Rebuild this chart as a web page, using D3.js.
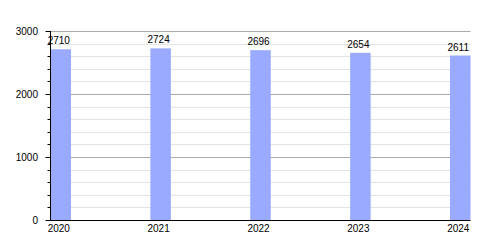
<!DOCTYPE html>
<html><head><meta charset="utf-8">
<script src="https://cdn.jsdelivr.net/npm/d3@7"></script>
<style>body{margin:0;background:#fff}svg{display:block}text{font-family:"Liberation Sans",Arial,sans-serif;font-size:10px;fill:#000}</style>
</head><body>
<svg id="c" width="500" height="250"></svg>
<script>
const categories = ["2020","2021","2022","2023","2024"];
const values = [2710, 2724, 2696, 2654, 2611];
const majorTicks = [0, 1000, 2000, 3000];

(function(){
const svg = d3.select("#c");
const pl = 50.5, pr = 470.5, pt = 31, pb = 220;
const barW = 20.5;
const x = d3.scalePoint().domain(categories).range([pl + barW/2, pr - barW/2]);
const y = d3.scaleLinear().domain([0, 3000]).range([pb, pt]);

const minor = d3.range(200, 3000, 200).filter(v => v % 1000 !== 0);
svg.append("g").selectAll("line").data(minor).join("line")
  .attr("x1", pl).attr("x2", pr)
  .attr("y1", d => Math.round(y(d)) + 0.5).attr("y2", d => Math.round(y(d)) + 0.5)
  .attr("stroke", "#e4e4e4").attr("stroke-width", 1);
svg.append("g").selectAll("line").data(majorTicks.filter(d => d > 0)).join("line")
  .attr("x1", pl).attr("x2", pr)
  .attr("y1", d => Math.round(y(d)) + 0.5).attr("y2", d => Math.round(y(d)) + 0.5)
  .attr("stroke", "#aaaaaa").attr("stroke-width", 1);

svg.append("g").selectAll("rect").data(values).join("rect")
  .attr("x", (d, i) => x(categories[i]) - barW/2)
  .attr("width", barW)
  .attr("y", d => y(d))
  .attr("height", d => pb - y(d))
  .attr("fill", "#99aaff");

svg.append("g").selectAll("text").data(values).join("text")
  .attr("x", (d, i) => x(categories[i]) - 2)
  .attr("y", d => y(d) - 5)
  .attr("text-anchor", "middle")
  .text(d => d);

const ya = svg.append("g");
ya.append("line").attr("x1", pl).attr("x2", pl).attr("y1", pt).attr("y2", pb + 0.5)
  .attr("stroke", "#000");
ya.selectAll(".mt").data(minor).join("line").attr("class", "mt")
  .attr("x1", pl - 3).attr("x2", pl)
  .attr("y1", d => Math.round(y(d)) + 0.5).attr("y2", d => Math.round(y(d)) + 0.5)
  .attr("stroke", "#000");
ya.selectAll(".Mt").data(majorTicks).join("line").attr("class", "Mt")
  .attr("x1", pl - 5).attr("x2", pl)
  .attr("y1", d => Math.round(y(d)) + 0.5).attr("y2", d => Math.round(y(d)) + 0.5)
  .attr("stroke", "#000");
ya.selectAll("text").data(majorTicks).join("text")
  .attr("x", 38).attr("y", d => y(d) + 3.5)
  .attr("text-anchor", "end").text(d => d);

svg.append("line").attr("x1", pl).attr("x2", pr).attr("y1", pb + 0.5).attr("y2", pb + 0.5)
  .attr("stroke", "#000");
svg.append("g").selectAll("text").data(categories).join("text")
  .attr("x", d => x(d) - 2).attr("y", 232)
  .attr("text-anchor", "middle").text(d => d);
})();
</script>
</body></html>
